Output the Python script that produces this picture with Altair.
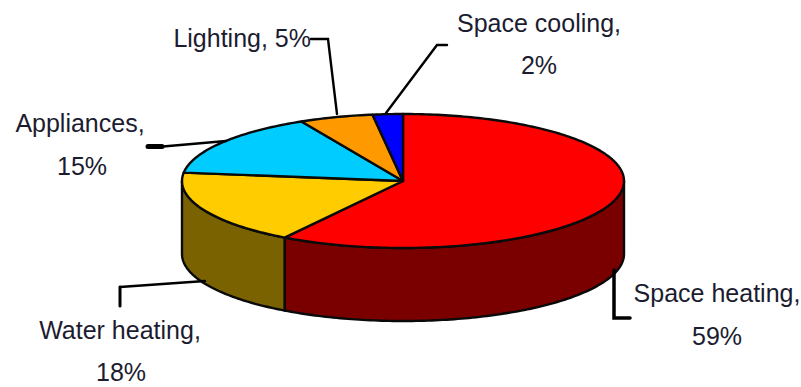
import numpy as np
import pandas as pd
import altair as alt

# End-use shares, clockwise from twelve o'clock
categories = ["Space heating", "Water heating", "Appliances", "Lighting", "Space cooling"]
shares = [59.0, 18.0, 15.4, 5.4, 2.2]
top_colors = ["#ff0000", "#ffcc00", "#00ccff", "#ff9900", "#0000ff"]
wall_colors = ["#7a0000", "#7a6200", "#006680", "#804c00", "#000080"]

# Pie geometry in canvas units
CX, CY, RX, RY, DEPTH = 403.0, 181.0, 221.0, 67.0, 73.0
W, H = 801, 387


def rim(a0, a1, dy=0.0):
    """Points along the ellipse between two clockwise angles (radians from north)."""
    n = max(2, int(np.degrees(a1 - a0)) + 2)
    t = np.linspace(a0, a1, n)
    return CX + RX * np.sin(t), CY + dy - RY * np.cos(t)


edges = np.radians(np.cumsum([0.0] + shares) * 3.6)

rows = []
# Side walls: only the front half of the rim, from 90 to 270 degrees, is visible
for i, cat in enumerate(categories):
    lo, hi = max(edges[i], np.pi / 2), min(edges[i + 1], 3 * np.pi / 2)
    if lo >= hi:
        continue
    xt, yt = rim(lo, hi)
    xb, yb = rim(lo, hi, DEPTH)
    xs = np.concatenate([xt, xb[::-1]])
    ys = np.concatenate([yt, yb[::-1]])
    for k, (x, y) in enumerate(zip(xs, ys)):
        rows.append(dict(shape=f"wall {cat}", layer=0, seq=k, x=x, y=y, color=wall_colors[i]))

# Top face wedges
for i, cat in enumerate(categories):
    xt, yt = rim(edges[i], edges[i + 1])
    xs = np.concatenate([[CX], xt])
    ys = np.concatenate([[CY], yt])
    for k, (x, y) in enumerate(zip(xs, ys)):
        rows.append(dict(shape=f"top {cat}", layer=1, seq=k, x=x, y=y, color=top_colors[i]))

faces = pd.DataFrame(rows)

x_scale = alt.Scale(domain=[0, W], range=[0, W], nice=False, zero=False)
y_scale = alt.Scale(domain=[0, H], range=[0, H], nice=False, zero=False)
X = alt.X("x:Q", scale=x_scale, axis=None)
Y = alt.Y("y:Q", scale=y_scale, axis=None)


def face_layer(layer):
    return (
        alt.Chart(faces[faces.layer == layer])
        .mark_line(filled=True, stroke="#0a0a0a", strokeWidth=2.4, interpolate="linear-closed", strokeJoin="round")
        .encode(X, Y, fill=alt.Fill("color:N", scale=None), detail="shape:N", order="seq:Q")
    )


# Leader lines from each label to its slice
leaders = pd.DataFrame(
    [
        ("Lighting", 0, 311, 39, 2.4), ("Lighting", 1, 328, 39, 2.4), ("Lighting", 2, 337, 114, 2.4),
        ("Cooling", 0, 447, 45, 2.4), ("Cooling", 1, 437, 45, 2.4), ("Cooling", 2, 386, 113, 2.4),
        ("Appliances", 0, 163, 146.5, 2.4), ("Appliances", 1, 226, 141, 2.4),
        ("Appliances tab", 0, 148, 146.5, 5), ("Appliances tab", 1, 162, 146.5, 5),
        ("Water", 0, 120, 287, 2.4), ("Water", 1, 205, 281, 2.4),
        ("Water tab", 0, 120, 306, 3), ("Water tab", 1, 120, 287, 3),
        ("Heating", 0, 614, 270, 3.5), ("Heating", 1, 614, 318, 3.5), ("Heating", 2, 630, 318, 3.5),
    ],
    columns=["leader", "seq", "x", "y", "w"],
)
leader_layer = (
    alt.Chart(leaders)
    .mark_line(color="black", strokeCap="round", strokeJoin="miter")
    .encode(X, Y, detail="leader:N", order="seq:Q", strokeWidth=alt.StrokeWidth("w:Q", scale=None))
)

# Category and percentage labels
pct = {c: f"{round(s)}%" for c, s in zip(categories, shares)}
labels = pd.DataFrame(
    [
        (f"Lighting, {pct['Lighting']}", 311, 39, "right"),
        ("Space cooling,", 539, 24, "center"),
        (pct["Space cooling"], 539, 66, "center"),
        ("Appliances,", 80, 124, "center"),
        (pct["Appliances"], 82, 167, "center"),
        ("Water heating,", 120, 331, "center"),
        (pct["Water heating"], 121, 373, "center"),
        ("Space heating,", 717, 294, "center"),
        (pct["Space heating"], 717, 337, "center"),
    ],
    columns=["text", "x", "y", "align"],
)


def text_layer(align):
    return (
        alt.Chart(labels[labels["align"] == align])
        .mark_text(font="Liberation Sans", fontSize=25, color="#1c1c30", align=align, baseline="middle")
        .encode(X, Y, text="text:N")
    )


chart = (
    alt.layer(face_layer(0), face_layer(1), leader_layer, text_layer("center"), text_layer("right"))
    .properties(width=W, height=H, padding=0, autosize=alt.AutoSizeParams(type="none"))
    .configure_view(stroke=None)
)

chart.save("out.html", embed_options={"renderer": "svg", "actions": False})
